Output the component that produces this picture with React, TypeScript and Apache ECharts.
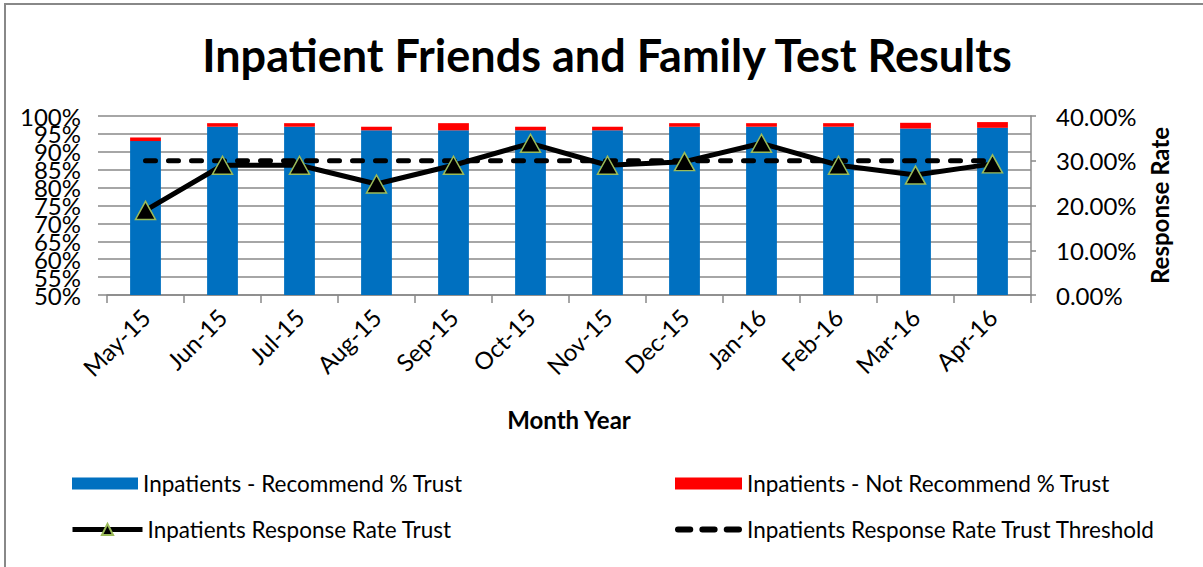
import React, { useEffect, useRef } from "react";
import * as echarts from "echarts";

const months = ["May-15", "Jun-15", "Jul-15", "Aug-15", "Sep-15", "Oct-15", "Nov-15", "Dec-15", "Jan-16", "Feb-16", "Mar-16", "Apr-16"];
const recommend = [93, 97, 97, 96, 96, 96, 96, 97, 97, 97, 96.5, 96.7];
const notRecommend = [1, 1, 1, 1, 2, 1, 1, 1, 1, 1, 1.6, 1.6];
const responseRate = [18.9, 29, 29, 24.8, 29, 33.9, 29, 29.8, 33.9, 29, 26.8, 29.3];
const threshold = [30, 30, 30, 30, 30, 30, 30, 30, 30, 30, 30, 30];

const FONT = "Lato";
const GRID = "#888888";

export default function App() {
  const ref = useRef<HTMLDivElement>(null);
  useEffect(() => {
    if (!ref.current) return;
    const chart = echarts.init(ref.current, undefined, { renderer: "svg" });
    const legendText = { fontFamily: FONT, fontSize: 22.5, color: "#000" };
    const leftLabel = {
      fontSize: 24,
      lineHeight: 16,
      color: "#000",
      fontFamily: FONT,
      margin: 26,
      showMinLabel: true,
      showMaxLabel: true,
    };
    chart.setOption({
      animation: false,
      backgroundColor: "#fff",
      textStyle: { fontFamily: FONT },
      graphic: [
        {
          type: "rect",
          shape: { x: 5, y: 4, width: 1400, height: 800 },
          style: { fill: "none", stroke: "#888", lineWidth: 2 },
          silent: true,
        },
        {
          type: "text",
          x: 607,
          y: 55,
          style: {
            text: "Inpatient Friends and Family Test Results",
            fontFamily: FONT,
            fontWeight: "bold",
            fontSize: 45,
            fill: "#000",
            textAlign: "center",
            textVerticalAlign: "middle",
          },
        },
      ],
      grid: { left: 107, right: 172, top: 116, bottom: 272 },
      legend: [
        { data: [{ name: "Inpatients - Recommend % Trust", icon: "rect" }], left: 72, top: 472, padding: 0, itemWidth: 66, itemHeight: 12, textStyle: legendText },
        { data: [{ name: "Inpatients - Not Recommend % Trust", icon: "rect" }], left: 675, top: 472, padding: 0, itemWidth: 67, itemHeight: 12, textStyle: legendText },
        {
          data: ["Inpatients Response Rate Trust"],
          left: 70,
          top: 518,
          padding: 0,
          itemWidth: 70,
          itemHeight: 14,
          lineStyle: { width: 5, color: "#000" },
          textStyle: legendText,
        },
        {
          data: [
            {
              name: "Inpatients Response Rate Trust Threshold",
              icon: "path://M3,0h12a3,3 0 0 1 0,6h-12a3,3 0 0 1 0,-6z M27,0h12a3,3 0 0 1 0,6h-12a3,3 0 0 1 0,-6z M51,0h12a3,3 0 0 1 0,6h-12a3,3 0 0 1 0,-6z",
            },
          ],
          left: 675,
          top: 518,
          padding: 0,
          itemWidth: 67,
          itemHeight: 7,
          itemStyle: { color: "#000" },
          textStyle: legendText,
        },
      ],
      xAxis: {
        type: "category",
        data: months,
        name: "Month Year",
        nameLocation: "middle",
        nameGap: 112,
        nameTextStyle: { fontFamily: FONT, fontWeight: "bold", fontSize: 24, color: "#000" },
        axisLine: { lineStyle: { color: GRID, width: 1.5 } },
        axisTick: { show: true, length: 8, lineStyle: { color: GRID, width: 1.5 } },
        axisLabel: { rotate: 45, fontSize: 24, color: "#000", fontFamily: FONT, margin: 18 },
      },
      yAxis: [
        {
          type: "value",
          min: 50,
          max: 100,
          interval: 5,
          axisLine: { show: false },
          axisTick: { show: true, length: 9, lineStyle: { color: GRID, width: 1.5 } },
          splitLine: { lineStyle: { color: GRID, width: 1.5 } },
          axisLabel: { ...leftLabel, formatter: (v: number) => (v % 10 === 0 ? `${v}%` : "") },
        },
        {
          type: "value",
          min: 50,
          max: 100,
          interval: 5,
          position: "left",
          axisLine: { show: false },
          axisTick: { show: false },
          splitLine: { show: false },
          axisLabel: { ...leftLabel, formatter: (v: number) => (v % 10 !== 0 ? `${v}%` : "") },
        },
        {
          type: "value",
          min: 0,
          max: 40,
          interval: 10,
          position: "right",
          name: "Response Rate",
          nameLocation: "middle",
          nameRotate: 90,
          nameGap: 116,
          nameTextStyle: { fontFamily: FONT, fontWeight: "bold", fontSize: 24, color: "#000" },
          axisLine: { show: true, lineStyle: { color: GRID, width: 1.5 } },
          axisTick: { show: true, length: 5, lineStyle: { color: GRID, width: 1.5 } },
          splitLine: { show: false },
          axisLabel: { formatter: (v: number) => `${v.toFixed(2)}%`, fontSize: 24, color: "#000", fontFamily: FONT, margin: 25 },
        },
      ],
      series: [
        {
          name: "Inpatients - Recommend % Trust",
          type: "bar",
          stack: "a",
          data: recommend,
          barWidth: "40%",
          itemStyle: { color: "#0070C0" },
        },
        {
          name: "Inpatients - Not Recommend % Trust",
          type: "bar",
          stack: "a",
          data: notRecommend,
          barWidth: "40%",
          itemStyle: { color: "#FF0000" },
        },
        {
          name: "Inpatients Response Rate Trust Threshold",
          type: "line",
          yAxisIndex: 2,
          data: threshold,
          symbol: "none",
          lineStyle: { color: "#000", width: 5, type: [10, 13], cap: "round" },
          itemStyle: { color: "#000" },
        },
        {
          name: "Inpatients Response Rate Trust",
          type: "line",
          yAxisIndex: 2,
          data: responseRate,
          symbol: "triangle",
          symbolSize: [20, 18],
          lineStyle: { color: "#000", width: 5 },
          itemStyle: { color: "#000", borderColor: "#9BBB59", borderWidth: 1.5 },
        },
      ],
    });
    return () => chart.dispose();
  }, []);
  return <div ref={ref} style={{ position: "absolute", left: 0, top: 0, width: 1203, height: 567 }} />;
}
